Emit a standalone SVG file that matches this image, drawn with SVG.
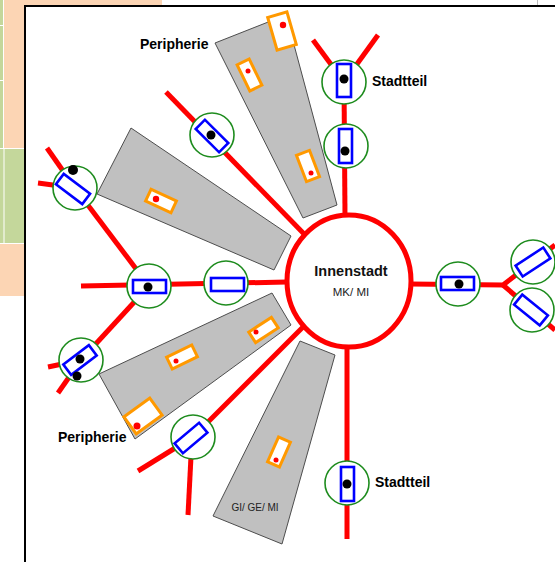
<svg xmlns="http://www.w3.org/2000/svg" width="555" height="562" viewBox="0 0 555 562">
<style>
.zone{fill:#c0c0c0;stroke:#4d4d4d;stroke-width:1}
.road{stroke:#ff0000;stroke-width:5;fill:none}
.node{fill:#ffffff;stroke:#1e8c1e;stroke-width:1.6}
.blk{fill:#ffffff;stroke:#0000ff;stroke-width:2.6}
.plot{fill:#ffffff;stroke:#ff9900;stroke-width:3}
.dot{fill:#000000}
.rdot{fill:#ff0000}
.lbl{font-family:"Liberation Sans",Arial,sans-serif;font-weight:bold;font-size:14px;fill:#000000}
</style>
<!-- background -->
<rect x="0" y="0" width="555" height="562" fill="#ffffff"/>
<rect x="0" y="0" width="162" height="6" fill="#fcd5b4"/>
<rect x="0" y="0" width="25" height="148" fill="#fcd5b4"/>
<rect x="0" y="0" width="3" height="148" fill="#c4d79b"/>
<rect x="3" y="0" width="1" height="148" fill="#ffffff"/>
<rect x="0" y="25" width="3" height="1" fill="#ffffff"/>
<rect x="0" y="80" width="3" height="1" fill="#ffffff"/>
<rect x="0" y="148" width="25" height="1" fill="#ffffff"/>
<rect x="0" y="149" width="25" height="94" fill="#c4d79b"/>
<rect x="3.5" y="149" width="1" height="94" fill="#ffffff"/>
<rect x="0" y="243" width="25" height="1" fill="#ffffff"/>
<rect x="0" y="244" width="25" height="52" fill="#fcd5b4"/>
<rect x="537" y="0" width="1" height="5" fill="#bbbbbb"/>
<rect x="25" y="6" width="530" height="556" fill="#ffffff"/>
<line x1="25" y1="6" x2="555" y2="6" stroke="#000" stroke-width="2"/>
<line x1="25" y1="5" x2="25" y2="562" stroke="#000" stroke-width="2"/>

<!-- zones -->
<g id="zone-top">
<polygon class="zone" points="215,43 286,15 337,205 303,218"/>
<g class="plot-g"><rect class="plot" x="-10" y="-17" width="20" height="34" transform="translate(282,31) rotate(-16)"/><circle class="rdot" cx="283" cy="25" r="3.2"/></g>
<g><rect class="plot" x="-6.7" y="-14.5" width="13.4" height="29" transform="translate(249.5,75) rotate(-26)"/><circle class="rdot" cx="248" cy="71" r="2.5"/></g>
<g><rect class="plot" x="-7" y="-14" width="14" height="28" transform="translate(308,166) rotate(-21)"/><circle class="rdot" cx="311" cy="173" r="2.5"/></g>
</g>
<g id="zone-upperleft">
<polygon class="zone" points="131,128 291,236 274,270 97,194"/>
<rect class="plot" x="-14" y="-6.5" width="28" height="13" transform="translate(161,201) rotate(25)"/><circle class="rdot" cx="156" cy="199" r="3.2"/>
</g>
<g id="zone-lowerleft">
<polygon class="zone" points="272,293 291,325 135,439 99,374"/>
<rect class="plot" x="-13.5" y="-6.3" width="27" height="12.6" transform="translate(263.5,330) rotate(-33)"/><circle class="rdot" cx="256" cy="332" r="2.5"/>
<rect class="plot" x="-14" y="-6.5" width="28" height="13" transform="translate(182,357) rotate(-26)"/><circle class="rdot" cx="176" cy="361" r="2.5"/>
<rect class="plot" x="-16" y="-10.5" width="32" height="21" transform="translate(143,416) rotate(-36)"/><circle class="rdot" cx="137" cy="426" r="3.5"/>
</g>
<g id="zone-bottom">
<polygon class="zone" points="300,341 335,355 282,544 213,516"/>
<rect class="plot" x="-6.5" y="-13.5" width="13" height="27" transform="translate(279,452) rotate(24)"/><circle class="rdot" cx="276" cy="460" r="2.5"/>
<text x="255" y="511" font-family="Liberation Sans, Arial, sans-serif" font-size="10" text-anchor="middle" fill="#222">GI/ GE/ MI</text>
</g>

<!-- connectors -->
<g id="connectors" class="road">
<line x1="345" y1="216" x2="344" y2="82"/>
<line x1="344" y1="82" x2="313" y2="40"/>
<line x1="344" y1="82" x2="378" y2="35"/>
<polyline points="410,284 503,285 555,245"/>
<line x1="503" y1="285" x2="555" y2="330"/>
<line x1="347" y1="346" x2="347" y2="539"/>
<line x1="287" y1="282" x2="81" y2="286"/>
<line x1="149" y1="286" x2="75" y2="188"/>
<line x1="75" y1="188" x2="47" y2="148"/>
<line x1="75" y1="188" x2="38" y2="183"/>
<line x1="149" y1="286" x2="81" y2="360"/>
<line x1="81" y1="360" x2="48" y2="367"/>
<line x1="81" y1="360" x2="58" y2="393"/>
<line x1="307" y1="237" x2="166" y2="92"/>
<line x1="304" y1="326" x2="193" y2="437"/>
<line x1="193" y1="437" x2="138" y2="471"/>
<line x1="192" y1="437" x2="188" y2="515"/>
</g>

<!-- center -->
<g id="innenstadt">
<ellipse cx="349" cy="281" rx="62" ry="66" fill="#ffffff" stroke="#ff0000" stroke-width="5"/>
<text x="351" y="276" font-family="Liberation Sans, Arial, sans-serif" font-weight="bold" font-size="14.5" text-anchor="middle" fill="#111">Innenstadt</text>
<text x="351" y="296" font-family="Liberation Sans, Arial, sans-serif" font-size="11.5" text-anchor="middle" fill="#222">MK/ MI</text>
</g>

<!-- nodes -->
<g id="n-top1"><circle class="node" cx="344" cy="82" r="22"/><rect class="blk" x="337" y="64" width="14" height="33"/><circle class="dot" cx="344" cy="79" r="4.5"/></g>
<g id="n-top2"><circle class="node" cx="346" cy="146" r="22"/><rect class="blk" x="339" y="129" width="13" height="34"/><circle class="dot" cx="345" cy="151" r="4.5"/></g>
<g id="n-right"><circle class="node" cx="458" cy="284" r="22"/><rect class="blk" x="441" y="277" width="33" height="13"/><circle class="dot" cx="459" cy="284" r="4.5"/></g>
<g id="n-right-up"><circle class="node" cx="533" cy="262" r="22"/><rect class="blk" x="-16.5" y="-6.5" width="33" height="13" transform="translate(533,262) rotate(-33)"/></g>
<g id="n-right-down"><circle class="node" cx="532" cy="310" r="22"/><rect class="blk" x="-16.5" y="-6.5" width="33" height="13" transform="translate(531,310) rotate(39)"/></g>
<g id="n-bottom"><circle class="node" cx="347" cy="483" r="22"/><rect class="blk" x="341" y="467" width="13" height="34"/><circle class="dot" cx="347" cy="484" r="4.5"/></g>
<g id="n-left1"><circle class="node" cx="226" cy="283" r="22"/><rect class="blk" x="211" y="278" width="33" height="13"/></g>
<g id="n-left2"><circle class="node" cx="149" cy="286" r="22"/><rect class="blk" x="133" y="280" width="33" height="13"/><circle class="dot" cx="148" cy="287" r="4.5"/></g>
<g id="n-diag-up"><circle class="node" cx="212" cy="135" r="22"/><rect class="blk" x="-16.5" y="-6.5" width="33" height="13" transform="translate(212,136) rotate(45)"/><circle class="dot" cx="211" cy="135" r="4.5"/></g>
<g id="n-topleft"><circle class="node" cx="75" cy="188" r="22"/><rect class="blk" x="-16.5" y="-6.5" width="33" height="13" transform="translate(73,189) rotate(37)"/><circle class="dot" cx="73" cy="170" r="5"/></g>
<g id="n-lowleft"><circle class="node" cx="81" cy="360" r="22"/><rect class="blk" x="-16" y="-6.5" width="32" height="13" transform="translate(80,360) rotate(-37)"/><circle class="dot" cx="80" cy="359" r="4.5"/><circle class="dot" cx="77" cy="376" r="4.5"/></g>
<g id="n-diag-down"><circle class="node" cx="193" cy="437" r="22"/><rect class="blk" x="-16" y="-6.5" width="32" height="13" transform="translate(191,438) rotate(-40)"/></g>

<!-- labels -->
<text class="lbl" x="140" y="49">Peripherie</text>
<text class="lbl" x="58" y="442">Peripherie</text>
<text class="lbl" x="372" y="86">Stadtteil</text>
<text class="lbl" x="375" y="487">Stadtteil</text>
</svg>
